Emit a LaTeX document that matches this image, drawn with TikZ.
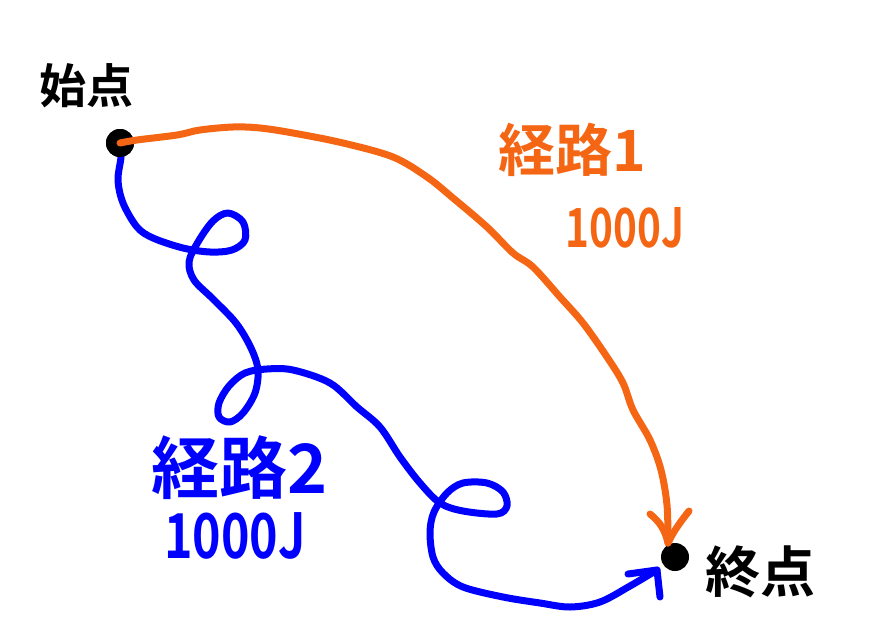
\documentclass[tikz,border=0pt]{standalone}
\usepackage{fontspec}
\newfontfamily\jpfont{Noto Sans CJK JP}[BoldFont={* Bold}]
\definecolor{porange}{RGB}{245,102,20}
\definecolor{pblue}{RGB}{0,0,255}
\tikzset{
  dotnode/.style={circle,fill=black,minimum size=28pt,inner sep=0pt},
  opath/.style={draw=porange,line width=7pt,line cap=round,line join=round},
  bpath/.style={draw=pblue,line width=7pt,line cap=round,line join=round},
  lbl/.style={inner sep=0pt,font=\jpfont\bfseries},
}
\newcommand{\fs}[1]{\fontsize{#1}{#1}\selectfont}
\begin{document}
\begin{tikzpicture}[x=1pt,y=-1pt]
\useasboundingbox (0,0) rectangle (875,642);
\fill[white] (0,0) rectangle (875,642);
% blue path
\coordinate (bt) at (657,570);
\node[dotnode] (s) at (120,143) {};
\draw[bpath] plot[smooth,tension=0.55] coordinates {
 (s.center) (121,157) (118,180) (123,203) (137,227) (153,238) (183,248) (210,252)
 (232,250) (245,240) (243,222) (228,213) (213,221) (198,242) (189,262) (194,280)
 (213,299) (236,323) (251,348) (258,370) (255,393) (243,413) (230,422) (219,417)
 (219,403) (229,386) (245,373) (267,369) (293,370) (330,383) (357,407) (380,427)
 (400,457) (420,483) (440,503) (463,511) (497,514) (507,506) (503,492) (487,483)
 (463,483) (447,493) (434,512) (430,532) (433,557) (443,573) (463,587) (503,597)
 (540,603) (570,607) (600,602) (630,586) (bt)};
\draw[bpath] (628,574) -- (bt) -- (660,597);
\node[dotnode] (e) at (675,557) {};
\fill[black] (s) circle (14pt);
% orange path
\coordinate (ot) at (668,543);
\draw[opath] plot[smooth,tension=0.55] coordinates {
 (s.center) (137,140) (177,135) (200,130) (233,127) (260,128) (293,133) (343,143)
 (393,157) (427,177) (453,198) (487,227) (513,253) (533,267) (560,297) (583,323)
 (607,357) (623,383) (633,410) (650,440) (661,470) (667,505) (ot)};
\draw[opath] (650,514) .. controls (660,522) and (665,530) .. (ot)
  .. controls (674,530) and (682,520) .. (689,511);
% labels
\node[lbl] (l1) at (86,86) {\fs{47}始点};
\node[lbl] (l2) at (760,572) {\fs{55}終点};
\node[lbl,text=porange] (l3) at (572,150) {\fs{57}経路1};
\node[lbl,text=porange,xscale=0.75] (l4) at (625,228) {\fs{54}1000J};
\node[lbl,text=pblue] (l5) at (240,468) {\fs{68}経路2};
\node[lbl,text=pblue,xscale=0.78] (l6) at (235,536) {\fs{62}1000J};
\end{tikzpicture}
\end{document}
